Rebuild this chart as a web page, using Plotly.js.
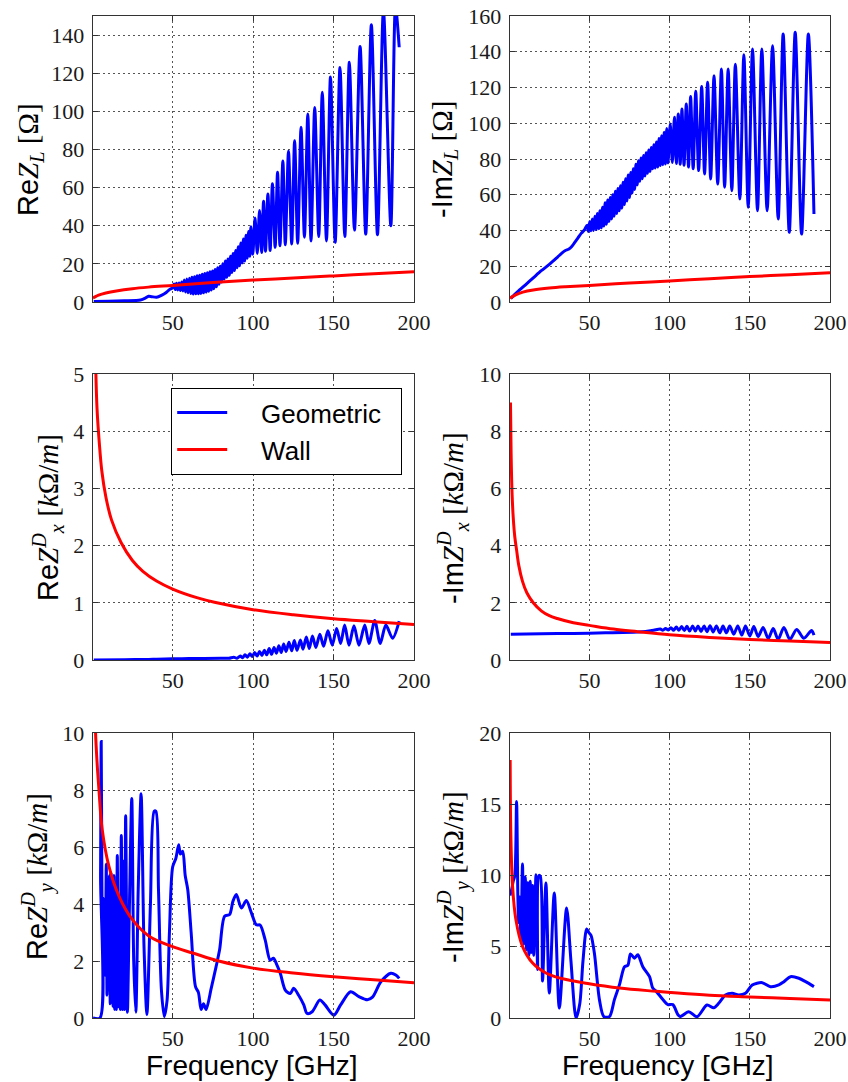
<!DOCTYPE html>
<html>
<head>
<meta charset="utf-8">
<script src="https://cdn.plot.ly/plotly-3.0.1.min.js"></script>
<style>html,body{margin:0;padding:0;background:#fff;}</style>
</head>
<body>
<div id="chart" style="width:848px;height:1082px;"></div>
<script>
// ---------- data (frequency in GHz) ----------
const xTickVals = [50, 100, 150, 200];

// Re Z_L  [Ohm]
const f_reZL_geo = [1,10,20,30,33,35,37,40,43,46,48,50,
 50.8,51.6,52.4,53.2,54.0,54.8,55.6,56.4,57.2,58.0,58.8,59.6,60.4,61.2,62.0,62.8,63.6,64.4,65.2,66.0,
 66.8,67.6,68.4,69.2,70.0,70.8,71.6,72.4,73.2,74.0,74.8,75.6,76.4,77.2,78.0,78.8,79.6,80.4,81.2,82.0,
 82.8,83.6,84.4,85.2,86.0,86.8,87.6,88.4,89.2,90.0,90.8,91.6,92.4,93.2,94.0,94.8,95.6,96.4,97.2,98.0,
 98.6,99.8,101.2,102.6,104,105.3,106.5,107.7,109.2,110.6,112,113.7,115.2,116.7,118.5,120,122,124,125.8,127.7,
 129.8,131.9,134,136,138.3,140.8,143,145.6,148.1,151,154,157,159.8,163,166.5,170,173.5,177.3,181,185.6,188.5,190.8];
const reZL_geo = [0.3,0.4,0.6,1,2,3,2.8,2.5,3.5,5,6.5,7.5,
 9.5,6.5,9.8,6.3,10,6,10.5,5.8,11.5,5.2,12,4.8,12.5,4.5,13,4.2,13.3,4.3,13.8,4.3,
 14,4.5,14.5,4.8,15,5.2,15.3,5.6,15.8,6.3,16.2,7,17,8,18,9.3,18.8,10.5,20,12,
 21.5,13,22.5,14,24,15.5,25.5,16.5,27,18,29,19,31,20.5,33,21.5,35,23,37,24,
 39.5,25,44,25.5,48,26,52.8,26.6,56.6,27,62,28.7,68,29.5,74,30,79,30.4,84.6,30.8,
 91.6,34,98.6,32,102,34.3,110,32,118,31.3,123,34.3,125.7,37.7,134,35.6,145.4,35.3,153,40,155,133.6];
const f_reZL_wall = [0.5,1,2,4,8.5,15,25,35,50,75,100,125,150,175,200];
const reZL_wall   = [2.0,2.3,2.8,3.6,4.7,5.8,7.0,7.8,8.7,10.2,11.5,12.6,13.7,14.8,15.9];

// -Im Z_L  [Ohm]
const f_imZL_geo = [1,5,10,15,20,25,30,33,35,37,39,41,43,45,47,
 48.6,49.4,50.2,51.0,51.8,52.6,53.4,54.2,55.0,55.8,56.6,57.4,58.2,59.0,59.8,60.6,61.4,62.2,63.0,63.8,
 64.6,65.4,66.2,67.0,67.8,68.6,69.4,70.2,71.0,71.8,72.6,73.4,74.2,75.0,75.8,76.6,77.4,78.2,79.0,79.8,
 80.6,81.4,82.2,83.0,83.8,84.6,85.4,86.2,87.0,87.8,88.6,89.4,90.2,91.0,91.8,92.6,93.4,94.2,95.0,95.8,
 96.6,97.4,98.2,99.0,
 100.4,101.7,103.0,104.2,105.4,106.6,107.7,109.0,110.4,111.8,113.1,114.7,116.3,118.1,120.0,121.8,
 123.7,125.6,127.7,130.0,132.3,134.3,136.5,138.8,141.0,143.8,146.3,149.0,151.7,154.8,157.5,160.8,
 164.2,167.7,170.8,174.6,178.3,182.3,186.5,190.0];
const imZL_geo = [2,5.5,9.5,13.5,17.5,21,25,27.5,28.8,29.5,31,33.5,36,38.5,40.5,
 43,39.5,45,39.8,46.5,40,48,40.5,49.5,41,51,41.5,53,42.5,55.5,43.5,57,45,58.5,46.5,
 60,48,62,49.5,63.5,51,65,52.5,67,54.5,69,56.5,71,58.5,72.5,61,74.5,63,77,65.5,
 79,67.5,80.5,69,82,70.5,83.5,72,85,73,86.5,74.5,88,75,89.5,75.5,91.5,76.3,93,76.8,
 95,77.2,97,77.8,
 99.6,78,103.3,77.5,105.2,77,108,76.5,110.8,75.5,114.9,74.5,117.9,73.5,120.5,71.6,
 122.9,68.8,126.6,66,130.3,64.2,130.3,62.3,133,57.6,138.3,53,141.5,51,141.5,51,
 143.4,46.4,150,39,150.9,38,150,49.2];
const f_imZL_wall = [0.5,1,2,4,8.5,15,25,35,50,75,100,125,150,175,200];
const imZL_wall   = [2.0,2.4,3.0,4.0,5.5,6.7,7.8,8.5,9.3,10.6,11.8,13.0,14.2,15.3,16.4];

// Re Z^D_x  [kOhm/m]
const f_reZx_geo = [1,20,35,40,50,60,80,85,88,90,92,93.5,95,96.5,98,99.5,101,102.5,104,105.5,107,108.5,
 110,111.5,113,114.5,116,117.5,119,120.5,122.3,124,125.6,127.3,129.4,131,133.1,134.9,136.9,139,141.5,
 143.8,146.5,149.2,151.9,154.4,156.9,159.6,162.7,165.8,169.4,172,175.6,179,182.5,186.7,190.8];
const reZx_geo = [0,0.005,0.01,0.015,0.02,0.025,0.03,0.03,0.05,0.03,0.07,0.04,0.09,0.05,0.11,0.06,0.13,0.07,0.15,0.08,0.17,0.09,
 0.2,0.10,0.22,0.12,0.25,0.13,0.28,0.15,0.31,0.16,0.34,0.17,0.35,0.19,0.40,0.2,0.42,0.22,0.45,
 0.24,0.51,0.26,0.55,0.29,0.61,0.26,0.6,0.26,0.61,0.29,0.69,0.29,0.61,0.38,0.68];
const f_reZx_wall = [1.8,2.2,3,4.4,6,8.5,12,18,25,31.5,40,50,65,76,100,125,150,175,200];
const reZx_wall   = [5.6,5.1,4.4,3.8,3.3,2.85,2.45,2.05,1.74,1.55,1.38,1.24,1.09,1.01,0.88,0.79,0.72,0.67,0.62];

// -Im Z^D_x  [kOhm/m]
const f_imZx_geo = [1,20,40,60,80,85,90,94.2,95.8,97.5,99.2,100.8,102.5,104.2,105.8,107.5,109.2,110.8,112.5,
 114.4,116,117.7,119.6,121.5,123.3,125.2,127.1,129.2,131.3,133.3,135.4,137.5,140,142.5,145,147.3,150,152.5,
 155.2,158.3,161.5,164.6,167.7,171.25,175,179.2,183.75,188.5,190];
const imZx_geo = [0.9,0.92,0.93,0.95,0.98,1.0,1.04,1.08,1.04,1.1,1.05,1.13,1.04,1.15,1.04,1.17,1.03,1.18,1.01,
 1.19,1.01,1.19,1.0,1.19,0.99,1.2,0.98,1.19,0.95,1.19,0.95,1.19,0.9,1.19,0.87,1.19,0.84,1.17,
 0.82,1.14,0.75,1.1,0.72,1.14,0.72,1.07,0.76,1.03,0.87];
const f_imZx_wall = [0.8,1.2,1.8,2.5,3.5,4.6,6,8.3,11,15,20,25,30,40,50,65,80,100,125,150,175,200];
const imZx_wall   = [9.0,7.2,5.8,5.0,4.3,3.85,3.3,2.75,2.35,2.0,1.72,1.55,1.45,1.3,1.21,1.08,0.99,0.88,0.79,0.72,0.66,0.61];

// Re Z^D_y  [kOhm/m]
const f_reZy_geo = [0.5,4.8,5.2,5.6,6.0,6.3,6.8,7.3,7.8,8.2,8.75,9.2,9.7,10.2,10.7,11.2,11.6,12.1,12.6,13.0,
 13.5,14.0,14.5,15.0,15.6,16.2,16.8,17.4,18.1,18.8,19.5,20.1,20.8,21.9,23,24.6,25.8,27.1,28.6,30.4,32.2,34,
 36.2,38.5,39.6,41.2,43,44.8,46.5,48,50,52,53.75,54.8,56.25,57.8,59.4,61.5,64.2,66,67.7,69.2,70.8,74,77,
 79.2,82.3,85.4,87.5,89.6,92.7,95.8,99,102,104.4,107.5,110.6,112.7,114.5,116.9,120,123.1,125.2,128.3,131.5,
 133.5,136.7,141.5,144.7,150.2,154.4,160.6,165.8,171,174.2,179.4,185.6,188.7,190.8];
const reZy_geo = [0,0,5,9.7,5,3.0,4.2,2.0,4.1,1.5,5.4,0.8,4.8,1.0,5.0,0.5,5.1,0.6,4.8,0.4,
 5.0,0.3,4.5,0.3,5.7,0.4,4.2,0.3,6.4,0.3,5.5,0.3,7.1,0.2,3.5,7.7,2.0,0.2,4.5,7.87,2.5,0.12,
 4,7.25,7.25,4.5,1,0.05,0.6,3,5.3,5.6,6.08,5.75,5.85,5,4.5,3,1.1,0.9,0.3,0.5,0.3,1.05,1.8,
 2.4,3.57,3.63,4.1,4.33,3.86,4.12,3.68,3.27,3.26,2.74,2.03,2.1,1.9,1.57,0.98,0.86,1.04,0.8,0.46,
 0.16,0.22,0.63,0.46,0.1,0.46,0.92,0.75,0.64,0.73,1.27,1.57,1.51,1.39];
const f_reZy_wall = [1.8,2.1,3,4.2,6.25,10.4,16.7,25,35.4,49.6,62.5,79.2,100,125,150,175,200];
const reZy_wall   = [11,10,9.0,8.0,6.6,5.32,4.27,3.45,2.87,2.51,2.28,1.99,1.75,1.58,1.45,1.34,1.24];

// -Im Z^D_y  [kOhm/m]
const f_imZy_geo = [0.5,1.5,2.5,3.5,4.6,5.4,5.9,6.5,7.3,8.3,9.0,10.0,10.8,11.6,12.3,13.1,13.8,14.6,15.3,16.7,
 17.7,18.5,19.4,20.8,22.9,25,28.1,31.25,35.8,38.5,41.7,44,46,48.3,49.6,51,53.1,56.25,59,62.5,65.6,68.75,
 71.9,74,75.6,78.1,80.2,83.3,87.5,89.5,91.7,95.8,99,102,105.2,106.7,111.9,117.1,123.3,127.5,130.6,134.8,
 139,143.1,147.3,151.5,157.7,162.9,168.1,171.3,175.4,180.6,184.8,190];
const imZy_geo = [8.6,9.0,9.6,10,15.2,8.5,6.7,8.5,5.5,10.8,5.2,9.9,4.8,9.5,4.4,9.6,4.6,9.3,4.4,10.06,
 3.4,10,9.94,2.6,9.47,1.75,8.77,0.7,7.72,4,0,1,4,6.25,6.0,5.8,4.56,1.29,0.1,0.1,1.29,2.34,
 3.6,3.7,4.5,4.2,4.44,3.6,2.9,2.1,1.87,1.3,0.94,0.94,0.23,0.1,0.44,0.09,0.91,0.72,1.03,1.61,
 1.73,1.61,1.73,2.32,2.48,2.2,2.32,2.55,2.9,2.79,2.55,2.2];
const f_imZy_wall = [0.6,1,2.1,4.2,8.3,14.6,22.9,33.3,49,68.75,91.7,105,125,150,175,200];
const imZy_wall   = [18.1,13,9.24,6.9,5.03,3.86,3.16,2.75,2.42,2.1,1.87,1.75,1.6,1.48,1.37,1.27];

const seriesNames = ['Geometric', 'Wall'];
const BLUE = '#0000ff', RED = '#ff0000';

// ---------- traces ----------
const panels = [
  {fg: f_reZL_geo, g: reZL_geo, fw: f_reZL_wall, w: reZL_wall},
  {fg: f_imZL_geo, g: imZL_geo, fw: f_imZL_wall, w: imZL_wall},
  {fg: f_reZx_geo, g: reZx_geo, fw: f_reZx_wall, w: reZx_wall},
  {fg: f_imZx_geo, g: imZx_geo, fw: f_imZx_wall, w: imZx_wall},
  {fg: f_reZy_geo, g: reZy_geo, fw: f_reZy_wall, w: reZy_wall},
  {fg: f_imZy_geo, g: imZy_geo, fw: f_imZy_wall, w: imZy_wall}
];
const NB = '\u00a0';
const traces = [];
panels.forEach((p, i) => {
  const ax = i === 0 ? '' : String(i + 1);
  const leg = (i === 2);
  traces.push({x: p.fg, y: p.g, type: 'scatter', mode: 'lines',
    name: NB.repeat(4) + seriesNames[0] + NB.repeat(2),
    xaxis: 'x' + ax, yaxis: 'y' + ax, showlegend: leg,
    line: {color: BLUE, width: 3, shape: 'spline', smoothing: 0.8}});
  traces.push({x: p.fw, y: p.w, type: 'scatter', mode: 'lines',
    name: NB.repeat(4) + seriesNames[1],
    xaxis: 'x' + ax, yaxis: 'y' + ax, showlegend: leg,
    line: {color: RED, width: 3, shape: 'spline', smoothing: 1}});
});

// ---------- layout ----------
const W = 848, H = 1082;
const colX = [[93 / W, 414 / W], [510 / W, 830 / W]];
const rowY = [[1 - 302 / H, 1 - 16 / H], [1 - 660 / H, 1 - 374 / H], [1 - 1018 / H, 1 - 733 / H]];
const yRanges = [[0, 150], [0, 160], [0, 5], [0, 10], [0, 10], [0, 20]];
const yDticks = [20, 20, 1, 2, 2, 5];

const tickFont = {family: 'Liberation Serif, DejaVu Serif, serif', size: 22, color: '#1a1a1a'};
function baseAxis() {
  return {
    showline: true, mirror: 'ticks', linecolor: '#333', linewidth: 1.3,
    ticks: 'inside', ticklen: 5, tickwidth: 1, tickcolor: '#333',
    showgrid: true, gridcolor: '#555', gridwidth: 1, griddash: '2px,3px',
    zeroline: false, tickfont: tickFont, fixedrange: true
  };
}
const layout = {
  width: W, height: H, autosize: false,
  margin: {l: 0, r: 0, t: 0, b: 0},
  paper_bgcolor: '#ffffff', plot_bgcolor: '#ffffff',
  showlegend: true,
  legend: {
    x: 171 / W, y: 1 - 388 / H, xanchor: 'left', yanchor: 'top',
    bgcolor: '#ffffff', bordercolor: '#000000', borderwidth: 1.2,
    font: {family: 'Liberation Sans, Arial, sans-serif', size: 26, color: '#000'},
    itemwidth: 50, traceorder: 'normal'
  },
  annotations: []
};
for (let i = 0; i < 6; i++) {
  const ax = i === 0 ? '' : String(i + 1);
  const col = i % 2, row = Math.floor(i / 2);
  const xa = baseAxis();
  xa.domain = colX[col]; xa.range = [0.5, 200]; xa.tickvals = xTickVals;
  xa.anchor = 'y' + ax;
  const ya = baseAxis();
  ya.domain = rowY[row]; ya.range = yRanges[i]; ya.dtick = yDticks[i]; ya.tick0 = 0;
  ya.anchor = 'x' + ax; ya.ticklabelstandoff = 3;
  layout['xaxis' + ax] = xa;
  layout['yaxis' + ax] = ya;
}

const SANS = "font-family:'Liberation Sans',Arial,sans-serif";
const yTitles = [
  {t: `<span style="${SANS}">Re</span><i>Z</i><sub><i>L</i></sub> [Ω]`, x: 30, y: 160},
  {t: `<span style="${SANS}">-Im</span><i>Z</i><sub><i>L</i></sub> [Ω]`, x: 444, y: 160},
  {t: `<span style="${SANS}">Re</span><i>Z</i><sup><i>D</i></sup><sub><i>x</i></sub> [<i>k</i>Ω/<i>m</i>]`, x: 48, y: 518},
  {t: `<span style="${SANS}">-Im</span><i>Z</i><sup><i>D</i></sup><sub><i>x</i></sub> [<i>k</i>Ω/<i>m</i>]`, x: 453, y: 518},
  {t: `<span style="${SANS}">Re</span><i>Z</i><sup><i>D</i></sup><sub><i>y</i></sub> [<i>k</i>Ω/<i>m</i>]`, x: 37, y: 877},
  {t: `<span style="${SANS}">-Im</span><i>Z</i><sup><i>D</i></sup><sub><i>y</i></sub> [<i>k</i>Ω/<i>m</i>]`, x: 453, y: 877}
];
yTitles.forEach(a => {
  layout.annotations.push({
    text: a.t, xref: 'paper', yref: 'paper', x: a.x / W, y: 1 - a.y / H,
    xanchor: 'center', yanchor: 'middle', textangle: -90, showarrow: false,
    font: {family: 'Liberation Serif, DejaVu Serif, serif', size: 29, color: '#000'}
  });
});
[252, 668].forEach(cx => {
  layout.annotations.push({
    text: 'Frequency [GHz]', xref: 'paper', yref: 'paper', x: cx / W, y: 1 - 1065 / H,
    xanchor: 'center', yanchor: 'middle', showarrow: false,
    font: {family: 'Liberation Sans, Arial, sans-serif', size: 28, color: '#000'}
  });
});

Plotly.newPlot('chart', traces, layout, {staticPlot: true, displayModeBar: false});
</script>
</body>
</html>
